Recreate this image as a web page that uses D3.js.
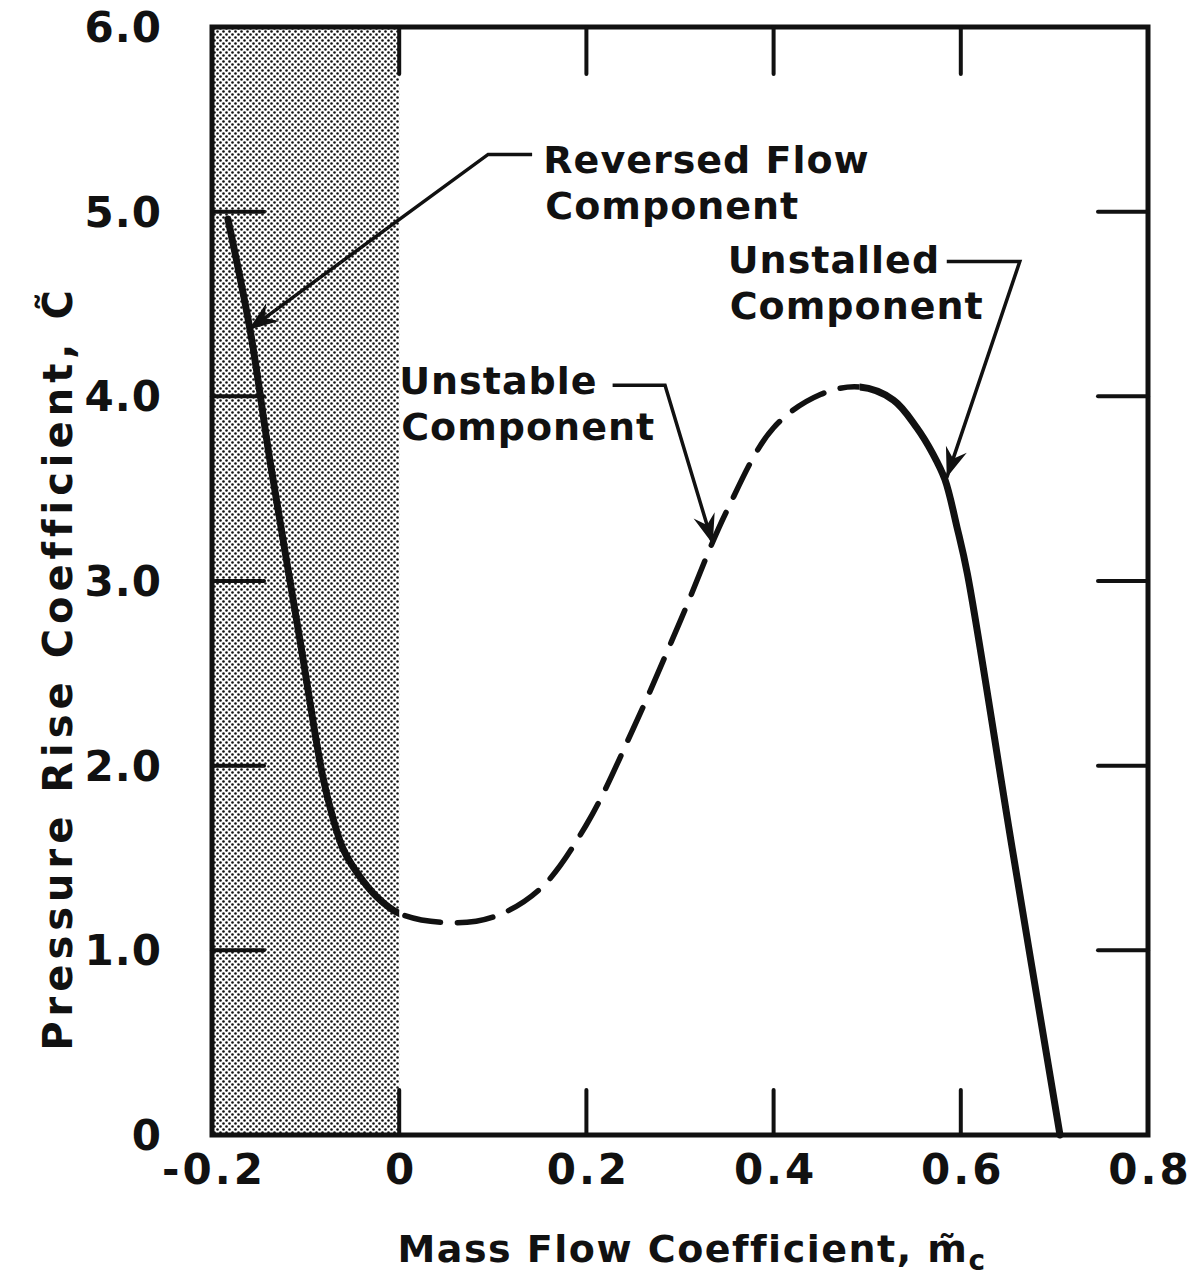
<!DOCTYPE html>
<html>
<head>
<meta charset="utf-8">
<script src="https://cdn.jsdelivr.net/npm/d3@7"></script>
<style>
  html, body { margin: 0; padding: 0; background: #fff; }
  text { font-family: "DejaVu Sans", sans-serif; font-weight: bold; fill: #111; }
</style>
</head>
<body>
<svg id="chart" width="1201" height="1279"></svg>
<script>
// ---- data ----
const xTicks = [-0.2, 0, 0.2, 0.4, 0.6, 0.8];
const xTickLabels = ["-0.2", "0", "0.2", "0.4", "0.6", "0.8"];
const yTicks = [0, 1, 2, 3, 4, 5, 6];
const yTickLabels = ["0", "1.0", "2.0", "3.0", "4.0", "5.0", "6.0"];

// reversed-flow component (solid, m <= 0)
const reversedM = [-0.183, -0.159, -0.138, -0.106, -0.082, -0.071, -0.060, -0.045, -0.024];
const reversedC = [4.96, 4.35, 3.65, 2.68, 1.95, 1.72, 1.55, 1.42, 1.29];
// unstable component (dashed)
const unstableM = [0.0, 0.05, 0.10, 0.15, 0.20, 0.25, 0.30, 0.35, 0.40, 0.45];
const unstableC = [1.20, 1.15, 1.18, 1.33, 1.68, 2.20, 2.78, 3.38, 3.83, 4.01];
// unstalled component (solid)
const unstalledM = [0.492, 0.528, 0.553, 0.570, 0.583, 0.596, 0.607, 0.655, 0.706];
const unstalledC = [4.05, 3.98, 3.83, 3.69, 3.55, 3.29, 3.04, 1.55, 0.0];

const dashedRange = [0.0, 0.492];   // m range drawn dashed
const shadedRange = [-0.2, 0.0];

// ---- layout ----
const svg = d3.select("#chart");
const x = d3.scaleLinear().domain([-0.2, 0.8]).range([212, 1148]);
const y = d3.scaleLinear().domain([0, 6]).range([1135, 27]);

const defs = svg.append("defs");
const pat = defs.append("pattern").attr("id", "dots")
  .attr("patternUnits", "userSpaceOnUse").attr("width", 6).attr("height", 6);
pat.append("rect").attr("width", 6).attr("height", 6).attr("fill", "#fff");
pat.append("circle").attr("cx", 1.5).attr("cy", 1.5).attr("r", 1.3).attr("fill", "#111");
pat.append("circle").attr("cx", 4.5).attr("cy", 4.5).attr("r", 1.3).attr("fill", "#111");

defs.append("marker").attr("id", "arrow")
  .attr("viewBox", "-32 -14 34 28").attr("refX", 0).attr("refY", 0)
  .attr("markerWidth", 34).attr("markerHeight", 28)
  .attr("markerUnits", "userSpaceOnUse").attr("orient", "auto")
  .append("path").attr("d", "M0,0 L-30,-11 L-20,0 L-30,11 Z").attr("fill", "#111");

// clip regions for solid / dashed parts
defs.append("clipPath").attr("id", "clipDash").append("rect")
  .attr("x", x(dashedRange[0])).attr("y", 0)
  .attr("width", x(dashedRange[1]) - x(dashedRange[0])).attr("height", 1279);
const clipSolid = defs.append("clipPath").attr("id", "clipSolid");
clipSolid.append("rect").attr("x", 0).attr("y", 0).attr("width", x(dashedRange[0])).attr("height", 1279);
clipSolid.append("rect").attr("x", x(dashedRange[1])).attr("y", 0).attr("width", 1201 - x(dashedRange[1])).attr("height", 1279);

// shaded region
svg.append("rect")
  .attr("x", x(shadedRange[0])).attr("y", y(6))
  .attr("width", x(shadedRange[1]) - x(shadedRange[0]))
  .attr("height", y(0) - y(6))
  .attr("fill", "url(#dots)");

// frame
svg.append("rect")
  .attr("x", x(-0.2)).attr("y", y(6))
  .attr("width", x(0.8) - x(-0.2)).attr("height", y(0) - y(6))
  .attr("fill", "none").attr("stroke", "#111").attr("stroke-width", 5);

// inward ticks
const tickG = svg.append("g").attr("stroke", "#111").attr("stroke-width", 4).attr("stroke-linecap", "round");
xTicks.slice(1, -1).forEach(t => {
  tickG.append("line").attr("x1", x(t)).attr("x2", x(t)).attr("y1", y(0)).attr("y2", y(0) - 45);
  tickG.append("line").attr("x1", x(t)).attr("x2", x(t)).attr("y1", y(6)).attr("y2", y(6) + 47);
});
yTicks.slice(1, -1).forEach(t => {
  tickG.append("line").attr("y1", y(t)).attr("y2", y(t)).attr("x1", x(-0.2)).attr("x2", x(-0.2) + 52);
  tickG.append("line").attr("y1", y(t)).attr("y2", y(t)).attr("x1", x(0.8)).attr("x2", x(0.8) - 50);
});

// tick labels
const lblFont = 42;
xTicks.forEach((t, i) => {
  svg.append("text").attr("x", x(t) + 2).attr("y", 1184)
    .attr("text-anchor", "middle").attr("font-size", lblFont)
    .attr("letter-spacing", 3).text(xTickLabels[i]);
});
yTicks.forEach((t, i) => {
  svg.append("text").attr("x", 162).attr("y", y(t) + 15)
    .attr("text-anchor", "end").attr("font-size", lblFont)
    .attr("letter-spacing", 1).text(yTickLabels[i]);
});

// axis titles
const xt = svg.append("text").attr("x", 692).attr("y", 1262)
  .attr("text-anchor", "middle").attr("font-size", 38).attr("letter-spacing", 1.5);
xt.append("tspan").text("Mass Flow Coefficient, m\u0303");
xt.append("tspan").attr("font-size", 28).attr("dy", 8).text("c");

svg.append("text")
  .attr("transform", "translate(72,668) rotate(-90)")
  .attr("text-anchor", "middle").attr("font-size", 40).attr("letter-spacing", 5)
  .text("Pressure Rise Coefficient, C\u0303");

// characteristic curve: one smooth path, solid/dashed by clipping
const zip = (a, b) => a.map((v, i) => [v, b[i]]);
const allPts = zip(reversedM, reversedC).concat(zip(unstableM, unstableC), zip(unstalledM, unstalledC));
const line = d3.line().x(d => x(d[0])).y(d => y(d[1])).curve(d3.curveCatmullRom.alpha(0.5));

svg.append("path").datum(allPts).attr("d", line)
  .attr("clip-path", "url(#clipSolid)")
  .attr("fill", "none").attr("stroke", "#111").attr("stroke-width", 7).attr("stroke-linecap", "round");
svg.append("path").datum(allPts).attr("d", line)
  .attr("clip-path", "url(#clipDash)")
  .attr("fill", "none").attr("stroke", "#111").attr("stroke-width", 5.5)
  .attr("stroke-dasharray", "36,17").attr("stroke-dashoffset", 8).attr("stroke-linecap", "round");

// annotations (data coords)
const annotations = [
  { lines: ["Reversed Flow", "Component"], tx: 0.154, ty: 5.21, lead: [[0.142, 5.31], [0.095, 5.31], [-0.161, 4.36]] },
  { lines: ["Unstable", "Component"], tx: 0.0, ty: 4.01, lead: [[0.228, 4.06], [0.284, 4.06], [0.335, 3.20]] },
  { lines: ["Unstalled", "Component"], tx: 0.351, ty: 4.67, lead: [[0.585, 4.73], [0.663, 4.73], [0.585, 3.56]] }
];
annotations.forEach(a => {
  svg.append("text").attr("x", x(a.tx)).attr("y", y(a.ty))
    .attr("font-size", 38).attr("letter-spacing", 1).text(a.lines[0]);
  svg.append("text").attr("x", x(a.tx) + 2).attr("y", y(a.ty) + 46)
    .attr("font-size", 38).attr("letter-spacing", 1).text(a.lines[1]);
  svg.append("path").datum(a.lead)
    .attr("d", d3.line().x(d => x(d[0])).y(d => y(d[1])))
    .attr("fill", "none").attr("stroke", "#111").attr("stroke-width", 3.5)
    .attr("stroke-linejoin", "miter").attr("marker-end", "url(#arrow)");
});
</script>
</body>
</html>
